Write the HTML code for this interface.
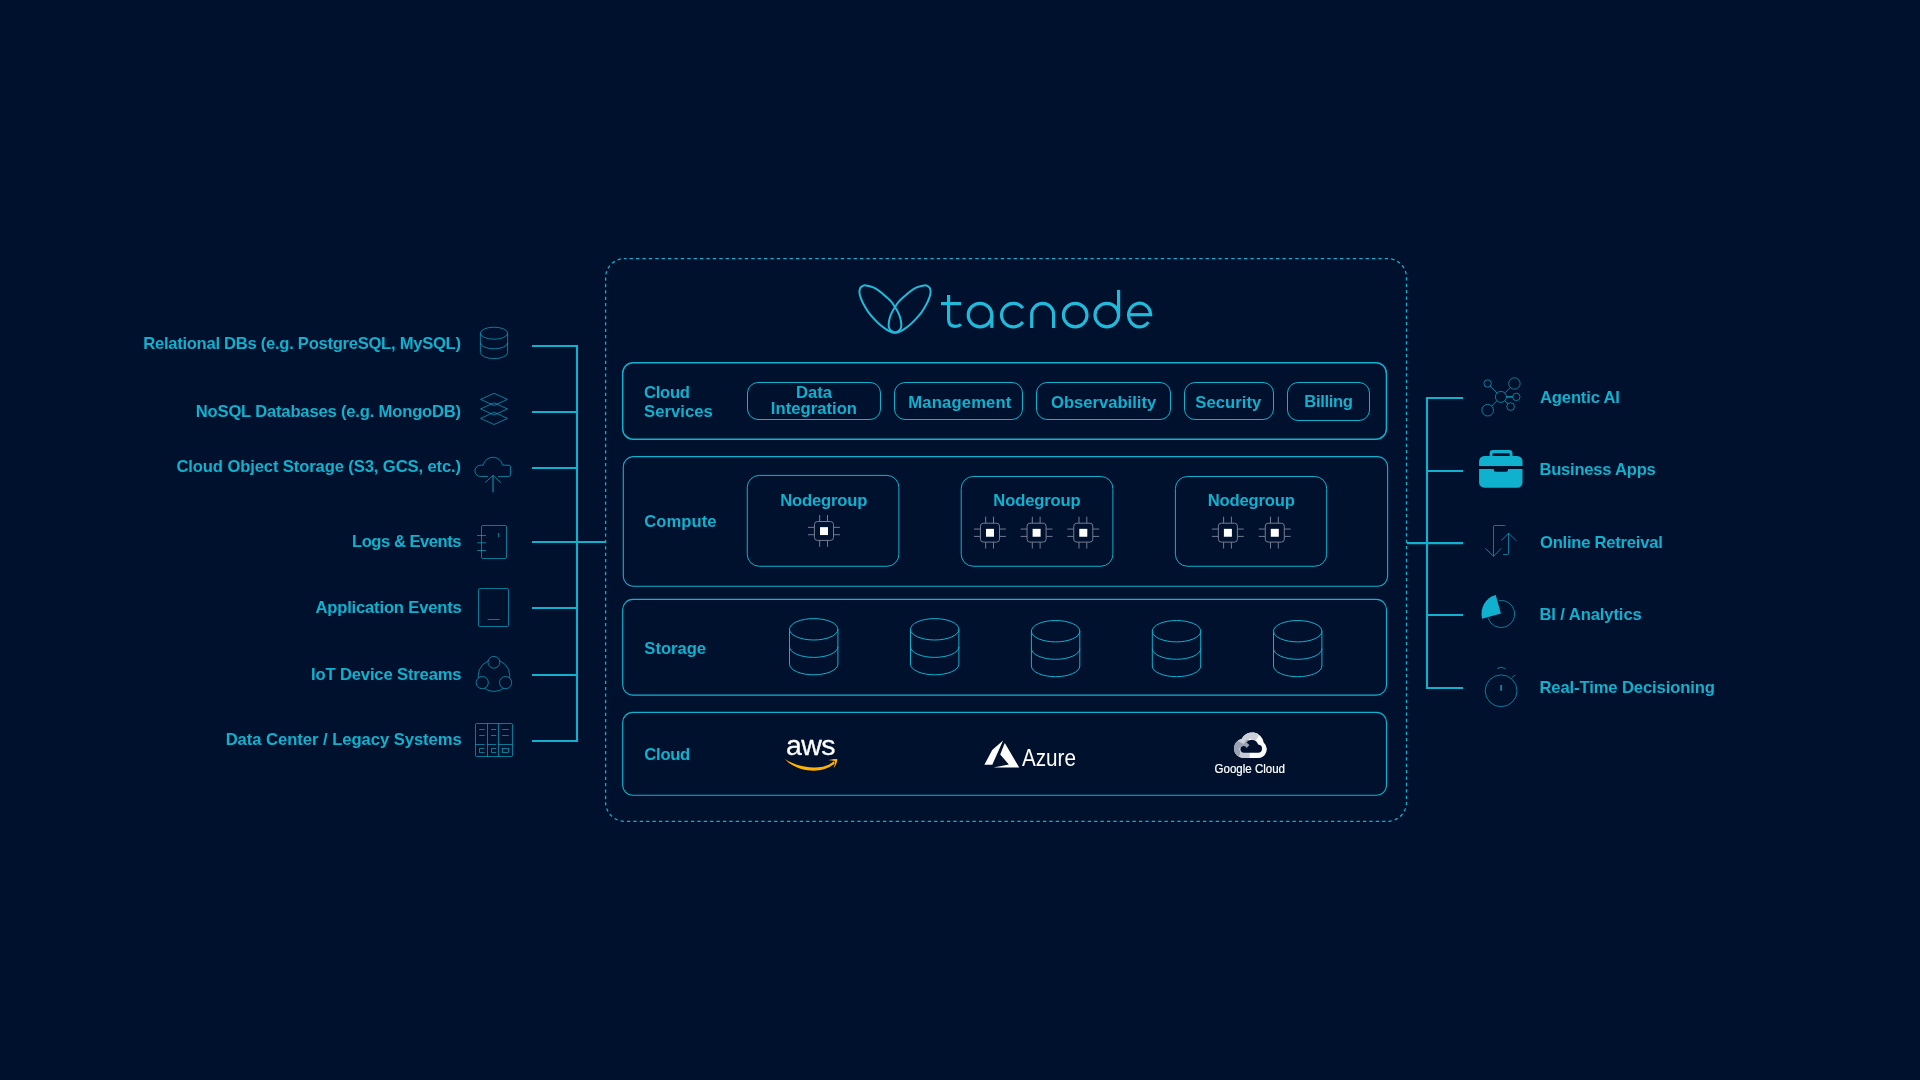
<!DOCTYPE html>
<html lang="en"><head><meta charset="utf-8"><title>Tacnode Architecture</title>
<style>
html,body{margin:0;padding:0;background:#00112E;overflow:hidden}
body{width:1920px;height:1080px;font-family:'Liberation Sans', sans-serif}
svg{display:block;position:absolute;left:0;top:0;will-change:transform}
text{font-family:'Liberation Sans', sans-serif;white-space:pre}
</style></head><body>
<svg width="1920" height="1080" viewBox="0 0 1920 1080">
<g>
<rect x="605.6" y="258.6" width="800.90" height="562.70" rx="19" ry="19" fill="none" stroke="#10B1CF" stroke-width="1.25" stroke-dasharray="3.3 3.1" stroke-dashoffset="1.4"/>
<g fill="none" stroke="#22BADA" stroke-width="2.0" stroke-linejoin="round">
<path d="M865.85,285.39C867.58,285.63 871.06,286.45 873.26,287.38C875.46,288.30 877.09,289.50 879.07,290.93C881.05,292.37 883.11,294.20 885.14,295.99C887.16,297.78 889.66,299.91 891.24,301.67C892.83,303.43 893.47,304.70 894.65,306.57C895.83,308.43 897.35,310.83 898.32,312.87C899.29,314.91 899.97,316.74 900.47,318.80C900.98,320.86 901.33,323.55 901.34,325.22C901.36,326.89 901.12,327.81 900.56,328.83C900.01,329.85 899.04,330.71 898.00,331.35C896.97,331.99 895.58,332.59 894.36,332.67C893.14,332.76 892.06,332.42 890.70,331.86C889.33,331.30 887.89,330.45 886.16,329.30C884.43,328.14 882.28,326.58 880.34,324.93C878.39,323.28 876.44,321.42 874.50,319.38C872.55,317.34 870.41,315.06 868.66,312.68C866.91,310.30 865.31,307.52 864.00,305.10C862.70,302.68 861.58,300.34 860.82,298.15C860.05,295.96 859.46,293.69 859.39,291.97C859.33,290.24 859.85,288.82 860.43,287.81C861.01,286.80 861.99,286.29 862.90,285.89C863.80,285.48 864.13,285.14 865.85,285.39Z"/>
<path d="M924.15,285.39C922.42,285.63 918.94,286.45 916.74,287.38C914.54,288.30 912.91,289.50 910.93,290.93C908.95,292.37 906.89,294.20 904.86,295.99C902.84,297.78 900.34,299.91 898.76,301.67C897.17,303.43 896.53,304.70 895.35,306.57C894.17,308.43 892.65,310.83 891.68,312.87C890.71,314.91 890.03,316.74 889.53,318.80C889.02,320.86 888.67,323.55 888.66,325.22C888.64,326.89 888.88,327.81 889.44,328.83C889.99,329.85 890.96,330.71 892.00,331.35C893.03,331.99 894.42,332.59 895.64,332.67C896.86,332.76 897.94,332.42 899.30,331.86C900.67,331.30 902.11,330.45 903.84,329.30C905.57,328.14 907.72,326.58 909.66,324.93C911.61,323.28 913.56,321.42 915.50,319.38C917.45,317.34 919.59,315.06 921.34,312.68C923.09,310.30 924.69,307.52 926.00,305.10C927.30,302.68 928.42,300.34 929.18,298.15C929.95,295.96 930.54,293.69 930.61,291.97C930.67,290.24 930.15,288.82 929.57,287.81C928.99,286.80 928.01,286.29 927.10,285.89C926.20,285.48 925.87,285.14 924.15,285.39Z"/>
</g>
<g fill="none" stroke="#22BADA" stroke-width="3.2" stroke-linecap="butt" stroke-linejoin="round">
<path d="M948.6,294.9 V319.6 Q948.6,326.4 955.4,326.4 Q958.8,326.4 961,324.4"/>
<path d="M941,303.6 H961"/>
<circle cx="980" cy="315.1" r="11.8"/>
<path d="M991.8,315.1 V327.9"/>
<path d="M1022.85,308.16 A11.8,11.8 0 1 0 1022.85,322.04"/>
<path d="M1031.7,327.9 V314.3 A10.95,10.95 0 0 1 1053.6,314.3 V327.9"/>
<circle cx="1075.2" cy="315.1" r="11.8"/>
<circle cx="1106.8" cy="315.1" r="11.8"/>
<path d="M1118.6,289.9 V316.1"/>
<path d="M1128.60,314.70000000000005 H1152.20"/>
<path d="M1150.60,314.70000000000005 A11.0,11.8 0 1 0 1148.38,322.20"/>
</g>
<rect x="622.7" y="362.7" width="763.70" height="76.50" rx="10.5" ry="10.5" fill="none" stroke="#10B1CF" stroke-width="1.45"/>
<rect x="623.3" y="456.6" width="764.30" height="129.70" rx="10" ry="10" fill="none" stroke="#10B1CF" stroke-width="1.1"/>
<rect x="622.7" y="599.4" width="763.80" height="95.70" rx="10" ry="10" fill="none" stroke="#10B1CF" stroke-width="1.15"/>
<rect x="622.7" y="712.3" width="763.80" height="82.95" rx="10" ry="10" fill="none" stroke="#10B1CF" stroke-width="1.15"/>
<text x="644.05" y="397.7" font-size="16.6" font-weight="bold" fill="#10B1CF" textLength="45.9" lengthAdjust="spacing">Cloud</text>
<text x="644.05" y="416.8" font-size="16.6" font-weight="bold" fill="#10B1CF" textLength="68.7" lengthAdjust="spacing">Services</text>
<rect x="747.5" y="382.5" width="133.00" height="37.00" rx="10.5" ry="10.5" fill="none" stroke="#10B1CF" stroke-width="1.0"/>
<rect x="894.5" y="382.5" width="128.00" height="37.00" rx="10.5" ry="10.5" fill="none" stroke="#10B1CF" stroke-width="1.0"/>
<rect x="1036.5" y="382.5" width="134.00" height="37.00" rx="10.5" ry="10.5" fill="none" stroke="#10B1CF" stroke-width="1.0"/>
<rect x="1184.5" y="382.5" width="89.00" height="37.00" rx="10.5" ry="10.5" fill="none" stroke="#10B1CF" stroke-width="1.0"/>
<rect x="1287.5" y="382.5" width="82.00" height="38.00" rx="10.5" ry="10.5" fill="none" stroke="#10B1CF" stroke-width="1.0"/>
<text x="814.0" y="397.7" font-size="16.6" font-weight="bold" fill="#10B1CF" textLength="36.1" lengthAdjust="spacing" text-anchor="middle">Data</text>
<text x="813.9" y="413.7" font-size="16.6" font-weight="bold" fill="#10B1CF" textLength="86.1" lengthAdjust="spacing" text-anchor="middle">Integration</text>
<text x="959.8" y="408.1" font-size="16.6" font-weight="bold" fill="#10B1CF" textLength="103.1" lengthAdjust="spacing" text-anchor="middle">Management</text>
<text x="1103.6" y="408.1" font-size="16.6" font-weight="bold" fill="#10B1CF" textLength="105.1" lengthAdjust="spacing" text-anchor="middle">Observability</text>
<text x="1228.3" y="408.1" font-size="16.6" font-weight="bold" fill="#10B1CF" textLength="65.9" lengthAdjust="spacing" text-anchor="middle">Security</text>
<text x="1328.6" y="407.0" font-size="16.6" font-weight="bold" fill="#10B1CF" textLength="48.7" lengthAdjust="spacing" text-anchor="middle">Billing</text>
<text x="644.35" y="527.1" font-size="16.6" font-weight="bold" fill="#10B1CF" textLength="72.1" lengthAdjust="spacing">Compute</text>
<rect x="747.25" y="475.4" width="151.65" height="90.85" rx="12" ry="12" fill="none" stroke="#10B1CF" stroke-width="1.0"/>
<rect x="961.2" y="476.5" width="151.70" height="89.75" rx="12" ry="12" fill="none" stroke="#10B1CF" stroke-width="1.0"/>
<rect x="1175.4" y="476.5" width="151.30" height="89.75" rx="12" ry="12" fill="none" stroke="#10B1CF" stroke-width="1.0"/>
<text x="823.8" y="505.6" font-size="16.6" font-weight="bold" fill="#10B1CF" textLength="87.3" lengthAdjust="spacing" text-anchor="middle">Nodegroup</text>
<text x="1037.0" y="505.8" font-size="16.6" font-weight="bold" fill="#10B1CF" textLength="87.3" lengthAdjust="spacing" text-anchor="middle">Nodegroup</text>
<text x="1251.3" y="505.8" font-size="16.6" font-weight="bold" fill="#10B1CF" textLength="87.3" lengthAdjust="spacing" text-anchor="middle">Nodegroup</text>
<g stroke="#737B90" stroke-width="1" fill="none">
<rect x="814.45" y="521.50" width="19.05" height="18.9" rx="2.9"/>
<path d="M819.70,515.00V521.50M819.70,540.40V546.80M827.50,515.00V521.50M827.50,540.40V546.80M808.00,527.35H814.45M833.50,527.35H839.90M808.00,534.70H814.45M833.50,534.70H839.90"/>
</g>
<rect x="820.00" y="527.15" width="8" height="7.9" fill="#FFFFFF"/>
<g stroke="#737B90" stroke-width="1" fill="none">
<rect x="980.45" y="523.20" width="19.05" height="18.9" rx="2.9"/>
<path d="M985.70,516.70V523.20M985.70,542.10V548.50M993.50,516.70V523.20M993.50,542.10V548.50M974.00,529.05H980.45M999.50,529.05H1005.90M974.00,536.40H980.45M999.50,536.40H1005.90"/>
</g>
<rect x="986.00" y="528.85" width="8" height="7.9" fill="#FFFFFF"/>
<g stroke="#737B90" stroke-width="1" fill="none">
<rect x="1027.05" y="523.20" width="19.05" height="18.9" rx="2.9"/>
<path d="M1032.30,516.70V523.20M1032.30,542.10V548.50M1040.10,516.70V523.20M1040.10,542.10V548.50M1020.60,529.05H1027.05M1046.10,529.05H1052.50M1020.60,536.40H1027.05M1046.10,536.40H1052.50"/>
</g>
<rect x="1032.60" y="528.85" width="8" height="7.9" fill="#FFFFFF"/>
<g stroke="#737B90" stroke-width="1" fill="none">
<rect x="1073.75" y="523.20" width="19.05" height="18.9" rx="2.9"/>
<path d="M1079.00,516.70V523.20M1079.00,542.10V548.50M1086.80,516.70V523.20M1086.80,542.10V548.50M1067.30,529.05H1073.75M1092.80,529.05H1099.20M1067.30,536.40H1073.75M1092.80,536.40H1099.20"/>
</g>
<rect x="1079.30" y="528.85" width="8" height="7.9" fill="#FFFFFF"/>
<g stroke="#737B90" stroke-width="1" fill="none">
<rect x="1218.35" y="523.20" width="19.05" height="18.9" rx="2.9"/>
<path d="M1223.60,516.70V523.20M1223.60,542.10V548.50M1231.40,516.70V523.20M1231.40,542.10V548.50M1211.90,529.05H1218.35M1237.40,529.05H1243.80M1211.90,536.40H1218.35M1237.40,536.40H1243.80"/>
</g>
<rect x="1223.90" y="528.85" width="8" height="7.9" fill="#FFFFFF"/>
<g stroke="#737B90" stroke-width="1" fill="none">
<rect x="1265.25" y="523.20" width="19.05" height="18.9" rx="2.9"/>
<path d="M1270.50,516.70V523.20M1270.50,542.10V548.50M1278.30,516.70V523.20M1278.30,542.10V548.50M1258.80,529.05H1265.25M1284.30,529.05H1290.70M1258.80,536.40H1265.25M1284.30,536.40H1290.70"/>
</g>
<rect x="1270.80" y="528.85" width="8" height="7.9" fill="#FFFFFF"/>
<text x="644.35" y="653.5" font-size="16.6" font-weight="bold" fill="#10B1CF" textLength="61.7" lengthAdjust="spacing">Storage</text>
<g fill="none" stroke="#10B1CF" stroke-width="1.0">
<ellipse cx="813.7" cy="629.30" rx="24.2" ry="10.7"/>
<path d="M789.50,629.30V664.10A24.2,10.7 0 0 0 837.90,664.10V629.30"/>
<path d="M789.50,646.70A24.2,10.7 0 0 0 837.90,646.70"/>
</g>
<g fill="none" stroke="#10B1CF" stroke-width="1.0">
<ellipse cx="934.7" cy="629.30" rx="24.2" ry="10.7"/>
<path d="M910.50,629.30V664.10A24.2,10.7 0 0 0 958.90,664.10V629.30"/>
<path d="M910.50,646.70A24.2,10.7 0 0 0 958.90,646.70"/>
</g>
<g fill="none" stroke="#10B1CF" stroke-width="1.0">
<ellipse cx="1055.6" cy="631.20" rx="24.2" ry="10.7"/>
<path d="M1031.40,631.20V666.00A24.2,10.7 0 0 0 1079.80,666.00V631.20"/>
<path d="M1031.40,648.60A24.2,10.7 0 0 0 1079.80,648.60"/>
</g>
<g fill="none" stroke="#10B1CF" stroke-width="1.0">
<ellipse cx="1176.5" cy="631.20" rx="24.2" ry="10.7"/>
<path d="M1152.30,631.20V666.00A24.2,10.7 0 0 0 1200.70,666.00V631.20"/>
<path d="M1152.30,648.60A24.2,10.7 0 0 0 1200.70,648.60"/>
</g>
<g fill="none" stroke="#10B1CF" stroke-width="1.0">
<ellipse cx="1297.7" cy="631.20" rx="24.2" ry="10.7"/>
<path d="M1273.50,631.20V666.00A24.2,10.7 0 0 0 1321.90,666.00V631.20"/>
<path d="M1273.50,648.60A24.2,10.7 0 0 0 1321.90,648.60"/>
</g>
<text x="644.35" y="760.25" font-size="16.6" font-weight="bold" fill="#10B1CF" textLength="45.9" lengthAdjust="spacing">Cloud</text>
<g transform="translate(785.9,754.5) scale(1.012,1)"><text x="0" y="0" font-size="28.2" font-weight="normal" fill="#FFFFFF" stroke="#FFFFFF" stroke-width="0.3" letter-spacing="-0.55">aws</text></g>
<path d="M785,758.9 C797,767.5 823,772 833.6,761.2 L834.9,763.2 C822,775.5 795,771.5 785,758.9Z" fill="#FFB000"/>
<path d="M828.3,760.3 C831,759.3 835,758.6 837.2,759.1 C837.6,761.5 835.8,765.7 833.6,768.2 C834.6,765.3 835.3,762.6 834.7,761.2 C833.3,760.3 830.6,760.4 828.3,760.3Z" fill="#FFB000"/>
<path d="M1003.1,740.6 L992.2,749.9 L984.4,764.7 L992.3,764.7 Z" fill="#FFFFFF"/>
<path d="M1004.8,742.9 L1019.2,767.5 L993.6,767.5 L1008.8,764.6 L1000.2,754.6 Z" fill="#FFFFFF"/>
<g transform="translate(1021.9,765.8) scale(0.892,1)"><text x="0" y="0" font-size="23.2" font-weight="normal" fill="#FFFFFF">Azure</text></g>
<g transform="translate(1233.3,731.7)">
<defs><clipPath id="gcsil"><path d="M10.2,26.4 H24.6 A9,9 0 0 0 30.4,10.7 A11.7,11.7 0 0 0 8.3,7.4 A9.6,9.6 0 0 0 10.2,26.4 Z"/></clipPath></defs>
<g clip-path="url(#gcsil)">
<rect x="-1" y="-1" width="36" height="29" fill="#FFFFFF"/>
<path d="M-1,8.2 L8.4,7.2 L14.6,7.6 L17.8,10 L18.4,12.4 L13.6,17.2 L9,14 L6,17 L7.5,21 L6,27.5 L-1,27.5 Z" fill="#9AA1B2"/>
<path d="M7.3,20.6 L16.4,20.6 L16.4,27.5 L4.4,27.5 Z" fill="#C7CBD5"/>
<path d="M4.6,9.2 L8.6,-1 L22,-1 L25.6,4.2 L21.8,9.4 L17.6,7 L12.8,8.2 L10.6,12.2 Z" fill="#CDD0D9"/>
</g>
<path d="M10.5,21.1 H24.3 A4.1,4.1 0 0 0 24.9,12.9 A6.6,6.6 0 0 0 13.2,10.9 L16.1,13.3 L13.4,16.2 A3.6,3.6 0 0 0 10.5,14.2 A3.45,3.45 0 0 0 10.5,21.1Z" fill="#00112E"/>
</g>
<g transform="translate(1214.6,773.1) scale(0.887,1)"><text x="0" y="0" font-size="13" font-weight="normal" fill="#FFFFFF" stroke="#FFFFFF" stroke-width="0.25">Google Cloud</text></g>
<g fill="none" stroke="#10B1CF" stroke-width="2.1" stroke-linecap="butt">
<path d="M532,346 H577 V741 H532"/>
<path d="M532,412 H577"/>
<path d="M532,468 H577"/>
<path d="M532,608 H577"/>
<path d="M532,675 H577"/>
<path d="M532,542 H605"/>
<path d="M1463,398 H1427 V688 H1463"/>
<path d="M1427,471 H1463"/>
<path d="M1427,615 H1463"/>
<path d="M1407,543.1 H1463"/>
</g>
<text x="143.25" y="348.5" font-size="16.6" font-weight="bold" fill="#10B1CF" textLength="317.7" lengthAdjust="spacing">Relational DBs (e.g. PostgreSQL, MySQL)</text>
<text x="195.75" y="416.9" font-size="16.6" font-weight="bold" fill="#10B1CF" textLength="265.4" lengthAdjust="spacing">NoSQL Databases (e.g. MongoDB)</text>
<text x="176.45" y="472.4" font-size="16.6" font-weight="bold" fill="#10B1CF" textLength="284.7" lengthAdjust="spacing">Cloud Object Storage (S3, GCS, etc.)</text>
<text x="352.05" y="546.7" font-size="16.6" font-weight="bold" fill="#10B1CF" textLength="109.5" lengthAdjust="spacing">Logs &amp; Events</text>
<text x="315.45" y="613.0" font-size="16.6" font-weight="bold" fill="#10B1CF" textLength="146.3" lengthAdjust="spacing">Application Events</text>
<text x="311.05" y="679.7" font-size="16.6" font-weight="bold" fill="#10B1CF" textLength="150.5" lengthAdjust="spacing">IoT Device Streams</text>
<text x="225.65" y="744.7" font-size="16.6" font-weight="bold" fill="#10B1CF" textLength="236.1" lengthAdjust="spacing">Data Center / Legacy Systems</text>
<text x="1540.05" y="402.75" font-size="16.6" font-weight="bold" fill="#10B1CF" textLength="79.9" lengthAdjust="spacing">Agentic AI</text>
<text x="1539.45" y="474.8" font-size="16.6" font-weight="bold" fill="#10B1CF" textLength="116.3" lengthAdjust="spacing">Business Apps</text>
<text x="1540.05" y="547.8" font-size="16.6" font-weight="bold" fill="#10B1CF" textLength="122.7" lengthAdjust="spacing">Online Retreival</text>
<text x="1539.45" y="619.9" font-size="16.6" font-weight="bold" fill="#10B1CF" textLength="102.3" lengthAdjust="spacing">BI / Analytics</text>
<text x="1539.45" y="692.7" font-size="16.6" font-weight="bold" fill="#10B1CF" textLength="175.5" lengthAdjust="spacing">Real-Time Decisioning</text>
<g fill="none" stroke="#10B1CF" stroke-width="0.66" stroke-linecap="butt" stroke-linejoin="round">
<ellipse cx="494" cy="333.2" rx="13.6" ry="6.0"/>
<path d="M480.4,333.2V352.6A13.6,6.0 0 0 0 507.6,352.6V333.2"/>
<path d="M480.4,342.8A13.6,6.0 0 0 0 507.6,342.8"/>
<path d="M494,393.3L507.4,399.4L494,405.5L480.6,399.4Z"/>
<path d="M494,402.8L507.4,408.9L494,415.0L480.6,408.9Z"/>
<path d="M494,412.3L507.4,418.4L494,424.5L480.6,418.4Z"/>
<path d="M487.9,476.5H480.8A5.65,5.65 0 0 1 480.3,465.2H483.2A9.9,9.9 0 0 1 502.6,465.2H508.7A1.8,1.8 0 0 1 510.5,467V474.7A1.8,1.8 0 0 1 508.7,476.5H498.1"/>
<path d="M485.1,482.6L493,475.4L500.8,482.6"/>
<path d="M493,475.4V492.3" stroke-width="0.9"/>
<rect x="481.5" y="525.5" width="25" height="33" rx="1.4"/>
<path d="M477.1,535.5H486M477.1,542.8H486M477.1,550.5H486M498.5,533V537.1"/>
<rect x="478.5" y="588.5" width="30" height="38" rx="1.2"/>
<path d="M487.6,619.5H499.6"/>
<circle cx="494" cy="675.7" r="15.8"/>
</g>
<g fill="#00112E" stroke="#10B1CF" stroke-width="0.66">
<circle cx="493.9" cy="662.3" r="5.9"/><circle cx="482.2" cy="682.6" r="6.1"/><circle cx="505.6" cy="682.6" r="6.1"/>
</g>
<g fill="none" stroke="#10B1CF" stroke-width="0.66">
<rect x="475.5" y="723.5" width="37" height="33" rx="1.2"/>
<path d="M487.5,723.5V756.5M498.5,723.5V756.5M475.5,744.5H484.6M487.5,744.5H496.2M498.5,744.5H512.5"/>
<path d="M479.2,729.5H484.7M479.2,735.5H484.7M491,729.5H496.1M491,735.5H496.1M502.2,729.5H508.7M502.2,735.5H508.7"/>
<path d="M484.5,748.5H479.5V752.5H484.5M496.1,748.5H491.5V752.5H496.1"/>
<rect x="502.5" y="748.5" width="6" height="4"/>
</g>
<g fill="none" stroke="#10B1CF" stroke-width="0.66">
<circle cx="1500.9" cy="396.9" r="5.5"/>
<circle cx="1487.6" cy="383.5" r="3.7"/>
<path d="M1497.03,393.00L1490.21,386.13"/>
<circle cx="1514.4" cy="383.5" r="5.7"/>
<path d="M1504.80,393.03L1510.35,387.52"/>
<circle cx="1516.3" cy="396.9" r="3.7"/>
<path d="M1506.40,396.90L1512.60,396.90" stroke-width="1.25"/>
<circle cx="1510.6" cy="406.6" r="3.85"/>
<path d="M1504.79,400.79L1507.88,403.88"/>
<circle cx="1487.7" cy="410.2" r="5.8"/>
<path d="M1497.03,400.80L1491.79,406.08"/>
</g>
<path fill="#10B1CF" d="M1479.1,466 V461.2 A5.2,5.2 0 0 1 1484.3,456 H1489.6 V453.4 A3.4,3.4 0 0 1 1493,450 H1509.1 A3.4,3.4 0 0 1 1512.5,453.4 V456 H1517.3 A5.2,5.2 0 0 1 1522.5,461.2 V466 Z M1492.4,456 H1509.7 V454.2 A1,1 0 0 0 1508.7,453.2 H1493.4 A1,1 0 0 0 1492.4,454.2 Z"/>
<path fill="#10B1CF" d="M1479.1,469 H1493.8 V470 A1.8,1.8 0 0 0 1495.6,471.8 H1506.2 A1.8,1.8 0 0 0 1508,470 V469 H1522.5 V482.6 A5.2,5.2 0 0 1 1517.3,487.8 H1484.3 A5.2,5.2 0 0 1 1479.1,482.7 Z"/>
<g fill="none" stroke="#10B1CF" stroke-width="0.66" stroke-linejoin="round">
<path d="M1504.9,525.5H1494.5Q1493.5,525.5 1493.5,526.5V556.3M1485.3,548.4L1493.5,556.3L1501.2,548.4"/>
<path d="M1503.1,554.5H1507.5Q1508.5,554.5 1508.5,553.5V533.2M1501.2,540.7L1508.5,533.2L1516.5,541"/>
</g>
<path d="M1499.10,600.55A13.6,13.6 0 1 1 1488.17,618.20" fill="none" stroke="#10B1CF" stroke-width="0.66"/>
<path d="M1500.9,613.6L1482.17,618.65A19.4,19.4 0 0 1 1495.75,594.90Z" fill="#10B1CF"/>
<g fill="none" stroke="#10B1CF" stroke-width="0.66">
<circle cx="1501.1" cy="690.8" r="15.9"/>
<path d="M1497,668.6Q1501.1,665.8 1505.3,668.6M1511.7,677.9L1515,675"/>
<path d="M1501.1,685.1V690.8" stroke-width="1.3"/>
</g>
</g>
</svg></body></html>
